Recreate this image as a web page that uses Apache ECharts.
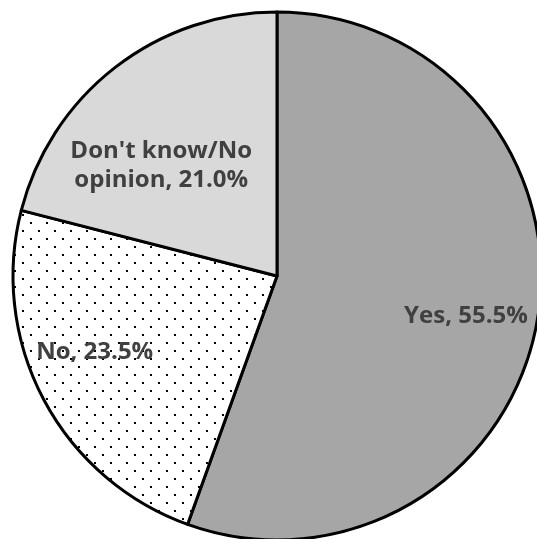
<!DOCTYPE html>
<html>
<head>
<meta charset="utf-8">
<script src="https://cdn.jsdelivr.net/npm/echarts@6/dist/echarts.min.js"></script>
<style>
html,body{margin:0;padding:0;background:#fff;}
#chart{width:537px;height:539px;}
</style>
</head>
<body>
<div id="chart"></div>
<script>
var categories = ['Yes', 'No', "Don't know/No opinion"];
var labelTexts = ['Yes, 55.5%', 'No, 23.5%', "Don't know/No\nopinion, 21.0%"];
var values = [55.5, 23.5, 21.0];

// dotted pattern tile for the "No" slice
var tile = document.createElement('canvas');
tile.width = 16; tile.height = 16;
var tctx = tile.getContext('2d');
tctx.fillStyle = '#ffffff';
tctx.fillRect(0, 0, 16, 16);
tctx.fillStyle = '#000000';
tctx.fillRect(14, 14, 2, 2);
tctx.fillRect(6, 6, 2, 2);

var fills = ['#a6a6a6', {image: tile, repeat: 'repeat'}, '#d9d9d9'];
var offsets = [[56, 17], [-63, 13], [-33, -4]];

var chart = echarts.init(document.getElementById('chart'), null, {renderer: 'canvas'});
chart.setOption({
  animation: false,
  series: [{
    type: 'pie',
    center: [277, 276],
    radius: 264,
    startAngle: 90,
    clockwise: true,
    avoidLabelOverlap: false,
    emphasis: {disabled: true},
    itemStyle: {borderColor: '#000', borderWidth: 3},
    label: {
      show: true,
      position: 'inside',
      color: '#404040',
      fontFamily: 'Open Sans',
      fontWeight: 'bold',
      fontSize: 24,
      lineHeight: 29,
      align: 'center'
    },
    labelLine: {show: false},
    data: categories.map(function (c, i) {
      return {
        name: c,
        value: values[i],
        itemStyle: {color: fills[i]},
        label: {formatter: labelTexts[i], offset: offsets[i]}
      };
    })
  }]
});
</script>
</body>
</html>
